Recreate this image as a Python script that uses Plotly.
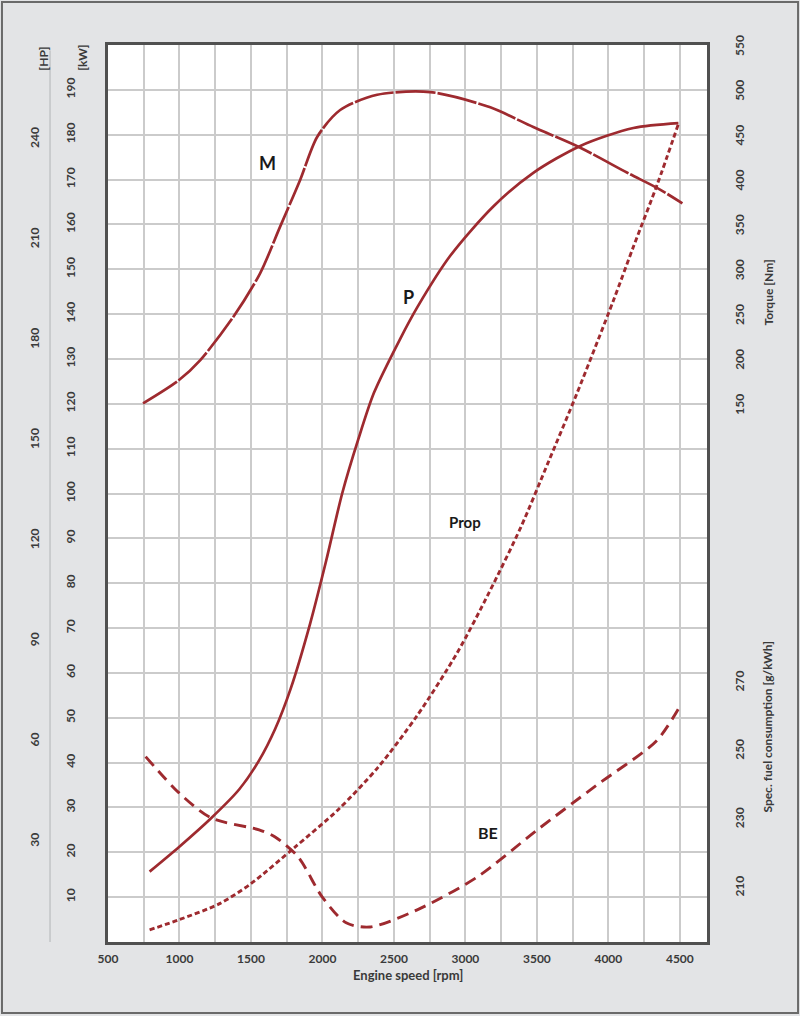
import plotly.graph_objects as go

# ---------------- data ----------------
rpm_M = [745, 997, 1144, 1375, 1564, 1704, 1844, 1963, 2124, 2383, 2754, 3174, 3475, 3804, 4133, 4343, 4518]
torque_M = [153, 179, 201, 249, 298, 350, 402, 450, 480, 497, 500, 483, 461, 438, 410, 393, 376]

rpm_P = [791, 997, 1221, 1417, 1557, 1669, 1778, 1914, 2026, 2138, 2250, 2361, 2544, 2663, 2894, 3195, 3475, 3804, 4175, 4490]
power_P = [15.7, 21.2, 27.6, 34.0, 40.5, 47.5, 56.5, 71.0, 85.0, 100.0, 112.0, 122.5, 134.5, 141.5, 153.0, 164.0, 171.5, 177.5, 181.5, 182.6]

rpm_prop = [791, 1000, 1277, 1500, 1802, 2110, 2390, 2663, 2943, 3167, 3388, 3580, 3776, 4035, 4175, 4343, 4490]
power_prop = [2.7, 5.0, 8.5, 13.0, 21.0, 29.5, 39.0, 50.5, 64.5, 78.0, 92.5, 107.0, 122.0, 143.0, 155.0, 169.0, 182.4]

rpm_BE = [763, 997, 1221, 1557, 1669, 1830, 1998, 2166, 2334, 2663, 3083, 3503, 3916, 4336, 4497]
fuel_BE = [248.4, 237.8, 230.5, 227.0, 224.9, 219.1, 207.4, 199.8, 198.6, 203.6, 213.2, 227.0, 240.0, 253.0, 262.9]

x_ticks = [500, 1000, 1500, 2000, 2500, 3000, 3500, 4000, 4500]
kw_ticks = list(range(10, 200, 10))
hp_ticks = [30, 60, 90, 120, 150, 180, 210, 240]
torque_ticks = [150, 200, 250, 300, 350, 400, 450, 500, 550]
fuel_ticks = [210, 230, 250, 270]

labels = ["M", "P", "Prop", "BE"]
label_x = [1613, 2600, 2999, 3160]
label_y = [173.7, 143.8, 93.6, 24.5]
label_size = [18, 18, 15, 16]

# ---------------- styling ----------------
RED = "#9e2a2f"
GRID = "#cbcbcb"
TXT = "#3a3a3a"
FONT = "Lato"
tickfont = dict(family=FONT, size=12, color=TXT, weight="bold")

fig = go.Figure()
fig.add_trace(go.Scatter(x=rpm_M, y=torque_M, yaxis="y3", mode="lines",
                         line=dict(color=RED, width=2.7, dash="40px,2px", shape="spline", smoothing=0.8),
                         name="M"))
fig.add_trace(go.Scatter(x=rpm_P, y=power_P, yaxis="y", mode="lines",
                         line=dict(color=RED, width=2.7, shape="spline", smoothing=0.8), name="P"))
fig.add_trace(go.Scatter(x=rpm_prop, y=power_prop, yaxis="y", mode="lines",
                         line=dict(color=RED, width=2.9, dash="5px,3px", shape="spline", smoothing=0.8),
                         name="Prop"))
fig.add_trace(go.Scatter(x=rpm_BE, y=fuel_BE, yaxis="y4", mode="lines",
                         line=dict(color=RED, width=2.9, dash="12px,7px", shape="spline", smoothing=0.8),
                         name="BE"))

kw_range = [0, 200]
fig.update_layout(
    width=800, height=1016,
    margin=dict(l=108, r=93, t=45, b=74),
    paper_bgcolor="#e3e4e6",
    plot_bgcolor="white",
    showlegend=False,
    xaxis=dict(range=[500, 4690], tickvals=x_ticks, showgrid=True, gridcolor=GRID, gridwidth=2,
               minor=dict(tick0=500, dtick=250, showgrid=True, gridcolor=GRID, gridwidth=2),
               showline=True, mirror=True, linecolor="#505050", linewidth=3,
               ticks="", tickfont=tickfont, ticklabelstandoff=4, zeroline=False),
    yaxis=dict(range=kw_range, tickvals=kw_ticks, showgrid=True, gridcolor=GRID, gridwidth=2,
               showline=True, mirror=True, linecolor="#505050", linewidth=3,
               ticks="", tickangle=-90, tickfont=tickfont, ticklabelstandoff=25, zeroline=False),
    yaxis2=dict(range=[kw_range[0] * 1.341, kw_range[1] * 1.341], overlaying="y", side="left", anchor="x",
                tickvals=hp_ticks, showgrid=False, ticks="", tickangle=-90, tickfont=tickfont,
                ticklabelstandoff=66, zeroline=False, showline=False),
    yaxis3=dict(range=[-447.5, 552.5], overlaying="y", side="right", anchor="x",
                tickvals=torque_ticks, showgrid=False, ticks="", tickangle=-90, tickfont=tickfont,
                ticklabelstandoff=24, zeroline=False, showline=False),
    yaxis4=dict(range=[194.2, 456.5], overlaying="y", side="right", anchor="x",
                tickvals=fuel_ticks, showgrid=False, ticks="", tickangle=-90, tickfont=tickfont,
                ticklabelstandoff=24, zeroline=False, showline=False),
)

# dummy trace so the HP axis is drawn
fig.add_trace(go.Scatter(x=[None], y=[None], yaxis="y2", showlegend=False, hoverinfo="skip"))

# curve labels
for t, lx, ly, s in zip(labels, label_x, label_y, label_size):
    fig.add_annotation(x=lx, y=ly, xref="x", yref="y", text=t, showarrow=False,
                       font=dict(family=FONT, size=s, color="#1a1a1a", weight="bold"))

# axis titles
ann = dict(showarrow=False, xref="paper", yref="paper", font=dict(family=FONT, size=12, color=TXT, weight="bold"))
fig.add_annotation(x=-0.0584, y=1.002, text="[kW]", textangle=-90, **ann)
fig.add_annotation(x=-0.125, y=1.0, text="[HP]", textangle=-90, **ann)
fig.add_annotation(x=1.117, y=0.7625, text="Torque [Nm]", textangle=-90, **ann)
fig.add_annotation(x=1.117, y=0.1416, text="Spec. fuel consumption [g/kWh]", textangle=-90, **ann)
fig.add_annotation(x=0.5008, y=-0.048, text="Engine speed [rpm]", showarrow=False, xref="paper", yref="paper",
                   font=dict(family=FONT, size=13, color=TXT, weight="bold"))

# separator line between HP and kW scales, outer frame
fig.add_shape(type="line", xref="paper", yref="paper", x0=-0.0968, x1=-0.0968, y0=0.0, y1=0.994,
              line=dict(color="#b3b4b6", width=1))
fig.add_shape(type="rect", xref="paper", yref="paper", x0=-0.177, x1=1.152, y0=-0.0792, y1=1.048,
              line=dict(color="#6a6a6a", width=2), layer="below")

fig.write_html("out.html", config={"displayModeBar": False},
               post_script="document.body.style.margin='0px';")
